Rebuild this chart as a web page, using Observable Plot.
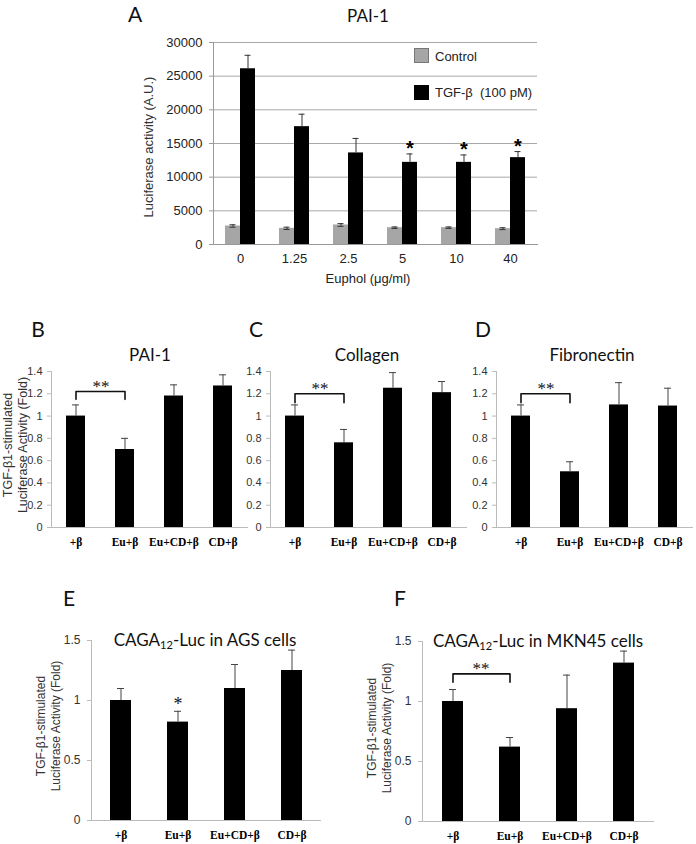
<!DOCTYPE html>
<html>
<head>
<meta charset="utf-8">
<script src="https://cdn.jsdelivr.net/npm/d3@7"></script>
<script src="https://cdn.jsdelivr.net/npm/@observablehq/plot@0.6"></script>
<style>
  html, body { margin: 0; padding: 0; background: #fff; }
  #root { position: relative; width: 696px; height: 844px; overflow: hidden; font-family: "Liberation Sans", Arial, sans-serif; color: #222; }
  .abs { position: absolute; white-space: nowrap; transform: translate(-50%, -50%); }
  .letter { font-family: Lato, "Open Sans", sans-serif; font-size: 21px; color: #111; }
  .title { font-family: Lato, "Open Sans", sans-serif; font-size: 17px; color: #111; }
  .ytitle { font-size: 12.5px; color: #333; line-height: 15px; text-align: center; transform: translate(-50%, -50%) rotate(-90deg); }
  .panel { position: absolute; }
  .legend-sw { position: absolute; width: 13px; height: 13px; }
  sub { font-size: 0.65em; vertical-align: -0.25em; }
</style>
</head>
<body>
<div id="root"></div>
<script>
// ---------- Panel A data ----------
const doses = ["0", "1.25", "2.5", "5", "10", "40"];
const controlMean = [2750, 2400, 2900, 2500, 2500, 2350];
const controlErr = [180, 170, 200, 110, 110, 140];
const tgfMean = [26100, 17500, 13600, 12200, 12200, 12900];
const tgfErr = [2000, 1850, 2150, 1250, 1100, 900];
const tgfStar = ["", "", "", "*", "*", "*"];
const yTicksA = [0, 5000, 10000, 15000, 20000, 25000, 30000];

// ---------- Panels B-F data ----------
const groups = ["+β", "Eu+β", "Eu+CD+β", "CD+β"];
const paiMean = [1.0, 0.70, 1.18, 1.27];
const paiErr = [0.10, 0.10, 0.10, 0.10];
const collagenMean = [1.0, 0.76, 1.25, 1.21];
const collagenErr = [0.10, 0.12, 0.14, 0.10];
const fibronectinMean = [1.0, 0.50, 1.10, 1.09];
const fibronectinErr = [0.10, 0.09, 0.20, 0.16];
const agsMean = [1.0, 0.82, 1.10, 1.25];
const agsErr = [0.10, 0.09, 0.20, 0.17];
const mknMean = [1.0, 0.62, 0.94, 1.32];
const mknErr = [0.10, 0.08, 0.28, 0.10];
const yTicksBD = [0, 0.2, 0.4, 0.6, 0.8, 1, 1.2, 1.4];
const yTicksEF = [0, 0.5, 1, 1.5];
// significance brackets: [bottom of arms, top bar]
const paiBracket = [1.15, 1.22];
const collagenBracket = [1.12, 1.20];
const fibronectinBracket = [1.12, 1.20];
const mknBracket = [1.16, 1.23];
const agsStar = ["", "*", "", ""];

const root = document.getElementById("root");

function addDiv(html, x, y, cls, extra) {
  const d = document.createElement("div");
  d.className = "abs " + cls;
  d.innerHTML = html;
  d.style.left = x + "px";
  d.style.top = y + "px";
  if (extra) Object.assign(d.style, extra);
  root.appendChild(d);
  return d;
}
function place(svg, left, top) {
  const w = document.createElement("div");
  w.className = "panel";
  w.style.left = left + "px";
  w.style.top = top + "px";
  w.appendChild(svg);
  root.appendChild(w);
}

// ---------- Panel A ----------
const dataA = doses.map((d, i) => ({dose: d, c: controlMean[i], ce: controlErr[i], t: tgfMean[i], te: tgfErr[i], star: tgfStar[i]}));
const plotA = Plot.plot({
  width: 696, height: 300,
  marginLeft: 213, marginRight: 159, marginTop: 42, marginBottom: 56,
  style: {background: "transparent", overflow: "visible", fontFamily: "Liberation Sans, Arial, sans-serif", fontSize: "13px", color: "#222"},
  x: {domain: doses, paddingInner: 0.444, paddingOuter: 0.222},
  y: {domain: [0, 30000]},
  marks: [
    Plot.gridY(yTicksA, {stroke: "#a8a8a8", strokeOpacity: 1}),
    Plot.frame({anchor: "left", stroke: "#999"}),
    Plot.frame({anchor: "bottom", stroke: "#999"}),
    Plot.axisY(yTicksA, {tickSize: 4, tickPadding: 7, stroke: "#999", fill: "#222", tickFormat: d => String(d), label: null}),
    Plot.axisX({tickSize: 0, tickPadding: 9, fill: "#222", label: null}),
    Plot.barY(dataA, {x: "dose", y: "c", fill: "#a6a6a6", insetRight: 15}),
    Plot.barY(dataA, {x: "dose", y: "t", fill: "#000", insetLeft: 15}),
    Plot.ruleX(dataA, {x: "dose", y1: d => d.c - d.ce, y2: d => d.c + d.ce, dx: -7.5, stroke: "#333"}),
    Plot.tickY(dataA, {x: "dose", y: d => d.c + d.ce, insetLeft: 4.5, insetRight: 19.5, stroke: "#333"}),
    Plot.tickY(dataA, {x: "dose", y: d => d.c - d.ce, insetLeft: 4.5, insetRight: 19.5, stroke: "#333"}),
    Plot.ruleX(dataA, {x: "dose", y1: "t", y2: d => d.t + d.te, dx: 7.5, stroke: "#333"}),
    Plot.tickY(dataA, {x: "dose", y: d => d.t + d.te, insetLeft: 19.5, insetRight: 4.5, stroke: "#333"}),
    Plot.text(dataA.filter(d => d.star), {x: "dose", y: d => d.t + d.te, text: "star", dx: 7.5, dy: -5, fontSize: 20, fontWeight: "bold", fill: "#000"})
  ]
});
place(plotA, 0, 0);
addDiv("A", 135, 13, "letter");
addDiv("PAI-1", 368, 15, "title");
addDiv("Luciferase activity (A.U.)", 148, 147, "ytitle", {fontSize: "13px"});
addDiv("Euphol (μg/ml)", 368, 278, "", {fontSize: "13px", color: "#222"});
// legend
const sw1 = document.createElement("div"); sw1.className = "legend-sw";
Object.assign(sw1.style, {left: "414px", top: "48px", background: "#a6a6a6", border: "1px solid #777"});
root.appendChild(sw1);
const sw2 = document.createElement("div"); sw2.className = "legend-sw";
Object.assign(sw2.style, {left: "414px", top: "85px", background: "#000", border: "1px solid #000"});
root.appendChild(sw2);
addDiv("Control", 435, 56, "", {transform: "translate(0,-50%)", fontSize: "13px"});
addDiv("TGF-β&nbsp; (100 pM)", 435, 92, "", {transform: "translate(0,-50%)", fontSize: "13px"});

// ---------- small panel factory ----------
function smallPanel(o) {
  const data = groups.map((g, i) => ({g, v: o.mean[i], e: o.err[i], s: o.star ? o.star[i] : ""}));
  const marks = [
    Plot.frame({anchor: "left", stroke: "#bbb"}),
    Plot.frame({anchor: "bottom", stroke: "#bbb"}),
    Plot.axisY(o.ticks, {tickSize: 4, tickPadding: o.tickPad, stroke: "#bbb", fill: "#333", fontSize: o.tickFont, tickFormat: d => String(d), label: null}),
    Plot.axisX({tickSize: 0, tickPadding: 10, fill: "#000", fontFamily: "Liberation Serif, Times New Roman, serif", fontWeight: "bold", fontSize: 11.5, label: null}),
    Plot.barY(data, {x: "g", y: "v", fill: "#000"}),
    Plot.ruleX(data, {x: "g", y1: "v", y2: d => d.v + d.e, stroke: "#444"}),
    Plot.tickY(data, {x: "g", y: d => d.v + d.e, insetLeft: o.capInset, insetRight: o.capInset, stroke: "#444"})
  ];
  if (o.bracket) {
    const br = [
      {x: groups[0], y: o.bracket[0]}, {x: groups[0], y: o.bracket[1]},
      {x: groups[1], y: o.bracket[1]}, {x: groups[1], y: o.bracket[0]}
    ];
    marks.push(Plot.line(br, {x: "x", y: "y", stroke: "#111", strokeWidth: 1.6}));
    marks.push(Plot.text([{y: o.bracket[1]}], {x: () => groups[0], y: "y", text: () => "**", dx: o.starDx, dy: -5, fontSize: 17, fontFamily: "Liberation Serif, serif", fill: "#111"}));
  }
  if (o.star) {
    marks.push(Plot.text(data.filter(d => d.s), {x: "g", y: d => d.v + d.e, text: "s", dy: -7, fontSize: 18, fontFamily: "Liberation Serif, serif", fill: "#111"}));
  }
  return Plot.plot({
    width: o.width, height: o.height,
    marginLeft: o.mL, marginRight: o.mR, marginTop: o.mT, marginBottom: o.mB,
    style: {background: "transparent", overflow: "visible", fontFamily: "Liberation Sans, Arial, sans-serif", fontSize: "11px", color: "#222"},
    x: {domain: groups, paddingInner: o.pi, paddingOuter: o.pi / 2},
    y: {domain: [0, o.yMax]},
    marks
  });
}

// ---------- Panels B, C, D ----------
const common = {height: 220, mT: 31, mB: 33, yMax: 1.4, ticks: yTicksBD, tickFont: 11, tickPad: 5, pi: 0.612, capInset: 6, starDx: 25};
place(smallPanel({...common, width: 250, mL: 51, mR: 3, mean: paiMean, err: paiErr, bracket: paiBracket}), 0, 340);
place(smallPanel({...common, width: 220, mL: 20, mR: 4, mean: collagenMean, err: collagenErr, bracket: collagenBracket}), 250, 340);
place(smallPanel({...common, width: 226, mL: 26, mR: 4, mean: fibronectinMean, err: fibronectinErr, bracket: fibronectinBracket}), 470, 340);
addDiv("B", 38, 328, "letter");
addDiv("C", 256, 328, "letter");
addDiv("D", 483, 328, "letter");
addDiv("PAI-1", 150, 354, "title");
addDiv("Collagen", 367, 354, "title");
addDiv("Fibronectin", 592, 354, "title");
addDiv("TGF-β1-stimulated<br>Luciferase Activity (Fold)", 16, 445, "ytitle");

// ---------- Panels E, F ----------
const commonEF = {height: 244, yMax: 1.5, ticks: yTicksEF, tickFont: 12, tickPad: 7, pi: 0.633, capInset: 7, starDx: 28};
place(smallPanel({...commonEF, width: 340, mL: 91, mR: 20, mT: 40, mB: 24, mean: agsMean, err: agsErr, star: agsStar}), 0, 600);
place(smallPanel({...commonEF, width: 356, mL: 82, mR: 43, mT: 41, mB: 23, mean: mknMean, err: mknErr, bracket: mknBracket}), 340, 600);
addDiv("E", 69, 597, "letter");
addDiv("F", 400, 597, "letter");
addDiv("CAGA<sub>12</sub>-Luc in AGS cells", 205, 640, "title");
addDiv("CAGA<sub>12</sub>-Luc in MKN45 cells", 538, 641, "title");
addDiv("TGF-β1-stimulated<br>Luciferase Activity (Fold)", 49, 726, "ytitle", {fontSize: "12px"});
addDiv("TGF-β1-stimulated<br>Luciferase Activity (Fold)", 380, 728, "ytitle", {fontSize: "12px"});
</script>
</body>
</html>
